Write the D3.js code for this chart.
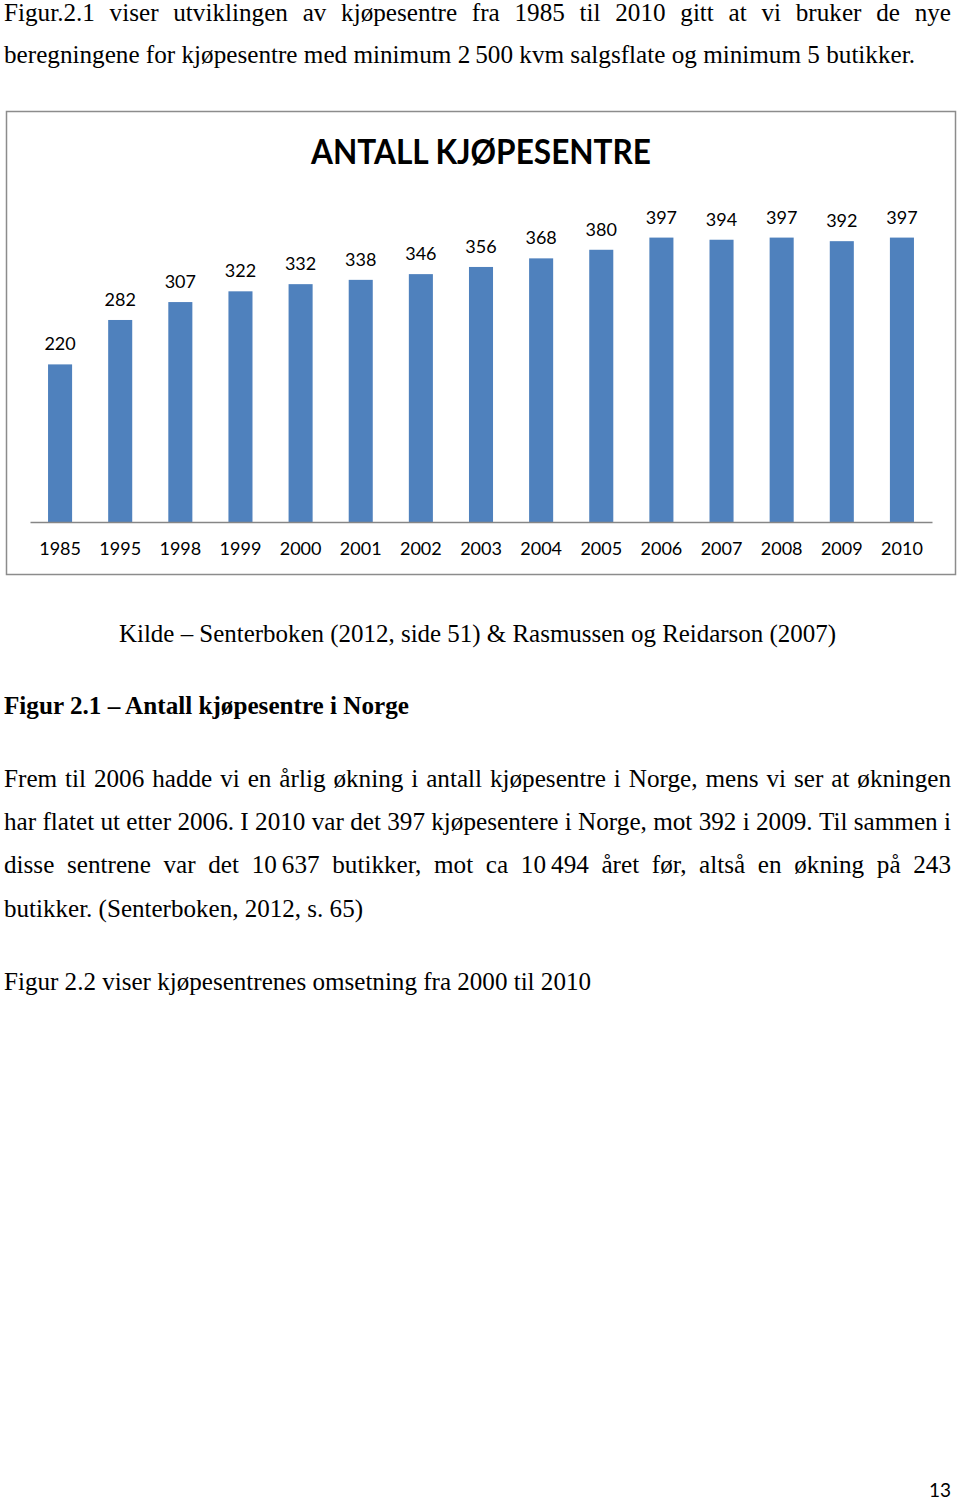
<!DOCTYPE html>
<html>
<head>
<meta charset="utf-8">
<script src="https://cdn.jsdelivr.net/npm/d3@7"></script>
<style>
  html, body { margin: 0; padding: 0; background: #fff; }
  svg { display: block; }
</style>
</head>
<body>
<script>
// ---- Data ----
const years = ["1985","1995","1998","1999","2000","2001","2002","2003","2004","2005","2006","2007","2008","2009","2010"];
const counts = [220, 282, 307, 322, 332, 338, 346, 356, 368, 380, 397, 394, 397, 392, 397];
const chartTitle = "ANTALL KJØPESENTRE";

const introLine1 = "Figur.2.1 viser utviklingen av kjøpesentre fra 1985 til 2010 gitt at vi bruker de nye";
const introLine2 = "beregningene for kjøpesentre med minimum 2\u2009500 kvm salgsflate og minimum 5 butikker.";
const sourceText = "Kilde \u2013 Senterboken (2012, side 51) & Rasmussen og Reidarson (2007)";
const captionText = "Figur 2.1 \u2013 Antall kjøpesentre i Norge";
const bodyLines = [
  "Frem til 2006 hadde vi en årlig økning i antall kjøpesentre i Norge, mens vi ser at økningen",
  "har flatet ut etter 2006. I 2010 var det 397 kjøpesentere i Norge, mot 392 i 2009. Til sammen i",
  "disse sentrene var det 10\u2009637 butikker, mot ca 10\u2009494 året før, altså en økning på 243",
  "butikker. (Senterboken, 2012, s. 65)"
];
const nextText = "Figur 2.2 viser kjøpesentrenes omsetning fra 2000 til 2010";
const pageNumber = "13";

// ---- Page ----
const W = 960, H = 1502;
const svg = d3.select("body").append("svg").attr("width", W).attr("height", H);
svg.append("rect").attr("width", W).attr("height", H).attr("fill", "#fff");

const serif = "'Liberation Serif', 'Times New Roman', serif";
const sans = "Lato, 'Open Sans', sans-serif";
const FS = 25;

function plainLine(txt, x, y, width, opts = {}) {
  const t = svg.append("text")
    .attr("x", x).attr("y", y)
    .attr("font-family", serif)
    .attr("font-size", opts.size || FS)
    .attr("font-weight", opts.weight || "normal")
    .attr("fill", "#000")
    .text(txt);
  t.attr("textLength", width).attr("lengthAdjust", "spacingAndGlyphs");
  return t;
}

function naturalWidth(txt, size, weight) {
  const t = svg.append("text").attr("font-family", serif).attr("font-size", size)
    .attr("font-weight", weight || "normal").text(txt);
  const w = t.node().getComputedTextLength();
  t.remove();
  return w;
}
const kComp = 911 / naturalWidth(introLine2, FS);

function justifyLine(txt, x0, x1, y) {
  const words = txt.split(" ");
  const nodes = words.map(w => {
    const t = svg.append("text").attr("y", y)
      .attr("font-family", serif).attr("font-size", FS).attr("fill", "#000").text(w);
    const nw = t.node().getComputedTextLength() * kComp;
    t.attr("textLength", nw).attr("lengthAdjust", "spacingAndGlyphs");
    return { t, nw };
  });
  const total = d3.sum(nodes, d => d.nw);
  const gap = (x1 - x0 - total) / (nodes.length - 1);
  let x = x0;
  nodes.forEach(d => { d.t.attr("x", x); x += d.nw + gap; });
}

justifyLine(introLine1, 4, 951, 21);
plainLine(introLine2, 4, 63, 911);

// ---- Chart ----
svg.append("rect")
  .attr("x", 6.5).attr("y", 111.5).attr("width", 949).attr("height", 463)
  .attr("fill", "#fff").attr("stroke", "#8c8c8c").attr("stroke-width", 1.5);

svg.append("text")
  .attr("x", 481).attr("y", 164)
  .attr("text-anchor", "middle")
  .attr("font-family", sans).attr("font-weight", "bold").attr("font-size", 34)
  .attr("fill", "#000")
  .attr("textLength", 340).attr("lengthAdjust", "spacingAndGlyphs")
  .text(chartTitle);

const x = d3.scaleBand().domain(years).range([30, 932]).paddingInner(0.6).paddingOuter(0.3);
const y = d3.scaleLinear().domain([0, 450]).range([522, 522 - 450 * 0.7164]);

const data = years.map((yr, i) => ({ yr, v: counts[i] }));

svg.append("g").selectAll("rect").data(data).join("rect")
  .attr("x", d => x(d.yr)).attr("width", x.bandwidth())
  .attr("y", d => y(d.v)).attr("height", d => y(0) - y(d.v))
  .attr("fill", "#4f81bd");

svg.append("g").selectAll("text").data(data).join("text")
  .attr("x", d => x(d.yr) + x.bandwidth() / 2)
  .attr("y", d => y(d.v) - 14)
  .attr("text-anchor", "middle")
  .attr("font-family", sans).attr("font-size", 18).attr("fill", "#000")
  .text(d => d.v);

const xAxis = svg.append("g").attr("transform", `translate(0,${y(0)})`)
  .call(d3.axisBottom(x).tickSize(0).tickPadding(0));
xAxis.select(".domain").attr("stroke", "#868686").attr("stroke-width", 1.5);
xAxis.selectAll(".tick text")
  .attr("y", 33).attr("dy", null)
  .attr("font-family", sans).attr("font-size", 18).attr("fill", "#000");

// ---- Text below chart ----
svg.append("text")
  .attr("x", 119).attr("y", 642)
  .attr("font-family", serif).attr("font-size", FS).attr("fill", "#000")
  .attr("textLength", 717).attr("lengthAdjust", "spacingAndGlyphs")
  .text(sourceText);

plainLine(captionText, 4, 714, 405, { weight: "bold" });

justifyLine(bodyLines[0], 4, 951, 787);
justifyLine(bodyLines[1], 4, 951, 830);
justifyLine(bodyLines[2], 4, 951, 873);
plainLine(bodyLines[3], 4, 917, 359);

plainLine(nextText, 4, 990, 587);

svg.append("text")
  .attr("x", 951).attr("y", 1497)
  .attr("text-anchor", "end")
  .attr("font-family", sans).attr("font-size", 19).attr("fill", "#000")
  .text(pageNumber);
</script>
</body>
</html>
